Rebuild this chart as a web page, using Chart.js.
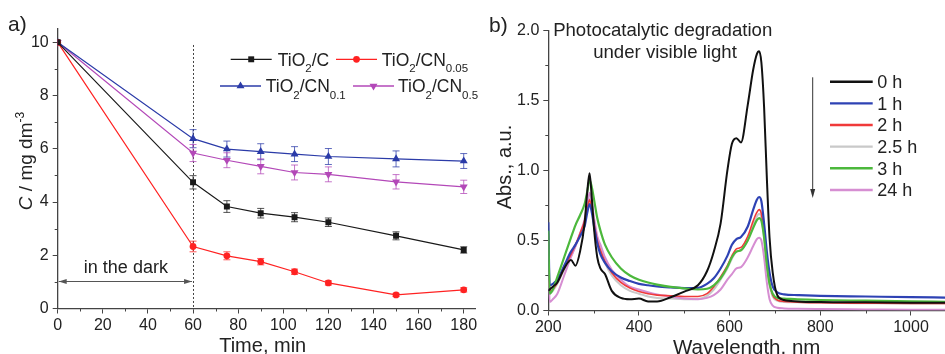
<!DOCTYPE html>
<html><head><meta charset="utf-8">
<script src="https://cdn.jsdelivr.net/npm/chart.js@4/dist/chart.umd.min.js"></script>
<style>
html,body{margin:0;padding:0;background:#fff;}
#wrap{position:relative;width:945px;height:354px;overflow:hidden;background:#fff;}
canvas{position:absolute;top:0;}
#ca{left:0;} #cb{left:480px;}
</style></head><body>
<div id="wrap"><canvas id="ca" width="480" height="354"></canvas><canvas id="cb" width="465" height="354"></canvas></div>
<script>
const FONT = '"Liberation Sans", Arial, Helvetica, sans-serif';
Chart.defaults.font.family = FONT;

// ---------- Panel a data ----------
const times   = [0, 60, 75, 90, 105, 120, 150, 180];
const cTiO2C  = [10, 4.74, 3.83, 3.58, 3.43, 3.24, 2.73, 2.20];
const cCN005  = [10, 2.33, 1.98, 1.76, 1.38, 0.96, 0.51, 0.70];
const cCN01   = [10, 6.38, 5.99, 5.89, 5.80, 5.71, 5.62, 5.54];
const cCN05   = [10, 5.84, 5.57, 5.34, 5.11, 5.04, 4.76, 4.57];
const eTiO2C  = [0, 0.25, 0.22, 0.18, 0.17, 0.16, 0.15, 0.12];
const eCN005  = [0, 0.20, 0.15, 0.12, 0.10, 0.08, 0.06, 0.08];
const eCN01   = [0, 0.34, 0.30, 0.30, 0.28, 0.30, 0.30, 0.28];
const eCN05   = [0, 0.32, 0.28, 0.28, 0.28, 0.28, 0.27, 0.25];
const darkEnd = 60;

// ---------- Panel b data ----------
const wl     = [200,203,210,220,235,250,260,270,280,286,291,296,301,308,315,325,340,360,380,400,420,440,470,500,530,550,565,580,595,605,615,625,640,652,660,665,670,676,682,688,695,705,720,750,800,900,1000,1075];
const abs0h  = [0.14,0.15,0.17,0.20,0.30,0.36,0.32,0.42,0.62,0.85,0.98,0.80,0.58,0.38,0.30,0.26,0.14,0.09,0.08,0.085,0.065,0.065,0.095,0.135,0.18,0.28,0.42,0.62,1.00,1.19,1.23,1.20,1.47,1.72,1.83,1.85,1.77,1.45,0.95,0.52,0.27,0.11,0.075,0.065,0.06,0.058,0.056,0.055];
const abs1h  = [0.63,0.18,0.19,0.22,0.32,0.42,0.47,0.53,0.60,0.70,0.76,0.70,0.60,0.48,0.40,0.34,0.28,0.235,0.21,0.19,0.18,0.172,0.165,0.16,0.162,0.19,0.23,0.30,0.39,0.47,0.51,0.525,0.60,0.72,0.79,0.81,0.78,0.62,0.42,0.27,0.17,0.13,0.115,0.11,0.105,0.10,0.095,0.092];
const abs2h  = [0.55,0.14,0.15,0.20,0.30,0.40,0.47,0.55,0.64,0.73,0.79,0.72,0.62,0.50,0.43,0.35,0.27,0.20,0.16,0.135,0.12,0.11,0.105,0.10,0.10,0.12,0.17,0.24,0.32,0.39,0.44,0.45,0.53,0.64,0.70,0.72,0.69,0.54,0.34,0.20,0.11,0.075,0.065,0.06,0.055,0.052,0.05,0.05];
const abs25h = [0.50,0.12,0.14,0.19,0.29,0.39,0.46,0.54,0.63,0.73,0.80,0.73,0.63,0.50,0.43,0.34,0.25,0.18,0.14,0.12,0.10,0.09,0.085,0.08,0.082,0.105,0.15,0.22,0.30,0.37,0.42,0.43,0.51,0.61,0.67,0.69,0.66,0.52,0.32,0.18,0.10,0.07,0.06,0.058,0.055,0.052,0.05,0.05];
const abs3h  = [0.57,0.12,0.15,0.24,0.38,0.52,0.61,0.68,0.76,0.85,0.93,0.88,0.79,0.66,0.57,0.47,0.38,0.30,0.25,0.22,0.20,0.185,0.168,0.158,0.15,0.155,0.18,0.23,0.31,0.38,0.42,0.43,0.50,0.59,0.645,0.66,0.64,0.52,0.33,0.19,0.12,0.09,0.085,0.08,0.075,0.07,0.065,0.062];
const abs24h = [0.50,0.06,0.08,0.12,0.25,0.38,0.46,0.55,0.65,0.76,0.84,0.77,0.66,0.53,0.47,0.38,0.29,0.22,0.17,0.15,0.13,0.115,0.10,0.085,0.08,0.09,0.11,0.15,0.22,0.26,0.30,0.31,0.38,0.46,0.51,0.52,0.50,0.38,0.20,0.08,0.035,0.02,0.015,0.012,0.01,0.008,0.006,0.005];
const specLabels = ['0 h','1 h','2 h','2.5 h','3 h','24 h'];

// ---------- helpers ----------
function fnt(size, italic){ return (italic?'italic ':'') + size + 'px ' + FONT; }
function rich(ctx, parts, x, y, align){
  let w = 0;
  parts.forEach(p => { ctx.font = fnt(p.s, p.i); w += ctx.measureText(p.t).width; });
  let cx = align === 'center' ? x - w/2 : x;
  ctx.textAlign = 'left'; ctx.textBaseline = 'alphabetic';
  parts.forEach(p => { ctx.font = fnt(p.s, p.i); ctx.fillText(p.t, cx, y + (p.dy||0)); cx += ctx.measureText(p.t).width; });
}
function marker(ctx, style, x, y, r, color){
  ctx.save(); ctx.fillStyle = color; ctx.beginPath();
  if (style === 'rect'){ const s = r*Math.SQRT1_2; ctx.rect(x-s, y-s, 2*s, 2*s); }
  else if (style === 'circle'){ ctx.arc(x, y, r, 0, Math.PI*2); }
  else if (style === 'triangle'){ ctx.moveTo(x, y-r); ctx.lineTo(x+r*0.866, y+r*0.5); ctx.lineTo(x-r*0.866, y+r*0.5); ctx.closePath(); }
  else if (style === 'tdown'){ ctx.moveTo(x, y+r); ctx.lineTo(x+r*0.866, y-r*0.5); ctx.lineTo(x-r*0.866, y-r*0.5); ctx.closePath(); }
  ctx.fill(); ctx.restore();
}
function minorTicks(ctx, scale, vals, len, horizontal){
  ctx.save(); ctx.strokeStyle = '#444'; ctx.lineWidth = 1; ctx.beginPath();
  vals.forEach(v => {
    const p = Math.round(scale.getPixelForValue(v)) + 0.5;
    if (horizontal){ ctx.moveTo(p, scale.top); ctx.lineTo(p, scale.top + len); }
    else { ctx.moveTo(scale.right, p); ctx.lineTo(scale.right - len, p); }
  });
  ctx.stroke(); ctx.restore();
}

// ---------- Panel a ----------
const seriesA = [
  {label:'TiO2/C', sub:'', tail:'/C', data:cTiO2C, err:eTiO2C, color:'#1a1a1a', style:'rect', r:4.2, rot:0},
  {label:'TiO2/CN0.05', sub:'0.05', tail:'/CN', data:cCN005, err:eCN005, color:'#ff2222', style:'circle', r:3.4, rot:0},
  {label:'TiO2/CN0.1', sub:'0.1', tail:'/CN', data:cCN01, err:eCN01, color:'#2b3ba8', style:'triangle', r:4.6, rot:0},
  {label:'TiO2/CN0.5', sub:'0.5', tail:'/CN', data:cCN05, err:eCN05, color:'#b348b8', style:'triangle', r:4.6, rot:180}
];
const legendA = [
  {i:0, lx:230.7, y:59.3, tx:277.7},
  {i:1, lx:336, y:59.3, tx:381.7},
  {i:2, lx:220, y:86, tx:265.7},
  {i:3, lx:353, y:86, tx:398}
];

const pluginA = {
  id:'pA',
  beforeDatasetsDraw(chart){
    const ctx = chart.ctx, xs = chart.scales.x, ys = chart.scales.y;
    ctx.save(); ctx.strokeStyle = '#444'; ctx.lineWidth = 1; ctx.setLineDash([2,2]);
    const px = Math.round(xs.getPixelForValue(darkEnd)) + 0.5;
    ctx.beginPath(); ctx.moveTo(px, ys.getPixelForValue(9.9)); ctx.lineTo(px, ys.getPixelForValue(0)); ctx.stroke();
    ctx.restore();
    seriesA.forEach((s, di) => {
      const meta = chart.getDatasetMeta(di);
      ctx.save(); ctx.strokeStyle = s.color; ctx.globalAlpha = 0.75; ctx.lineWidth = 1;
      s.err.forEach((e, j) => {
        if (!e) return;
        const x = meta.data[j].x;
        const y1 = ys.getPixelForValue(s.data[j] - e), y2 = ys.getPixelForValue(s.data[j] + e);
        ctx.beginPath();
        ctx.moveTo(x, y1); ctx.lineTo(x, y2);
        ctx.moveTo(x-3.5, y1); ctx.lineTo(x+3.5, y1);
        ctx.moveTo(x-3.5, y2); ctx.lineTo(x+3.5, y2);
        ctx.stroke();
      });
      ctx.restore();
    });
  },
  afterDraw(chart){
    const ctx = chart.ctx, xs = chart.scales.x, ys = chart.scales.y;
    minorTicks(ctx, xs, [10,30,50,70,90,110,130,150,170], 3, true);
    minorTicks(ctx, ys, [1,3,5,7,9], 3, false);
    const ay = Math.round(ys.getPixelForValue(1.02)) + 0.5;
    const ax1 = xs.getPixelForValue(0) + 1, ax2 = xs.getPixelForValue(darkEnd) - 1;
    ctx.save(); ctx.strokeStyle = '#555'; ctx.fillStyle = '#555'; ctx.lineWidth = 1;
    ctx.beginPath(); ctx.moveTo(ax1, ay); ctx.lineTo(ax2, ay); ctx.stroke();
    ctx.beginPath(); ctx.moveTo(ax1, ay); ctx.lineTo(ax1+8, ay-2.5); ctx.lineTo(ax1+8, ay+2.5); ctx.closePath(); ctx.fill();
    ctx.beginPath(); ctx.moveTo(ax2, ay); ctx.lineTo(ax2-8, ay-2.5); ctx.lineTo(ax2-8, ay+2.5); ctx.closePath(); ctx.fill();
    ctx.restore();
    ctx.fillStyle = '#222';
    rich(ctx, [{t:'in the dark', s:18}], xs.getPixelForValue(darkEnd/2) + 0.5, 273, 'center');
    legendA.forEach(L => {
      const s = seriesA[L.i];
      ctx.save(); ctx.strokeStyle = s.color; ctx.lineWidth = 1.3;
      ctx.beginPath(); ctx.moveTo(L.lx, L.y); ctx.lineTo(L.lx + 41, L.y); ctx.stroke(); ctx.restore();
      marker(ctx, s.rot ? 'tdown' : s.style, L.lx + 20.5, L.y, s.r, s.color);
      ctx.fillStyle = '#222';
      const parts = [{t:'TiO', s:17.5}, {t:'2', s:11.5, dy:6.5}, {t:s.tail, s:17.5}];
      if (s.sub) parts.push({t:s.sub, s:11.5, dy:6.5});
      rich(ctx, parts, L.tx, L.y + 6.2, 'left');
    });
    ctx.fillStyle = '#222';
    rich(ctx, [{t:'Time, min', s:20}], 262.7, 351.5, 'center');
    ctx.save(); ctx.translate(31.5, 161); ctx.rotate(-Math.PI/2);
    rich(ctx, [{t:'C', s:19, i:true}, {t:' / mg dm', s:19}, {t:'-3', s:12, dy:-8}], 0, 0, 'center');
    ctx.restore();
    rich(ctx, [{t:'a)', s:21}], 8, 31, 'left');
  }
};

new Chart(document.getElementById('ca'), {
  type:'line',
  data:{ datasets: seriesA.map(s => ({
    label:s.label,
    data: times.map((t,i) => ({x:t, y:s.data[i]})),
    borderColor:s.color, backgroundColor:s.color, borderWidth:1.2,
    pointStyle:s.style, pointRotation:s.rot, pointRadius:s.r, pointBorderWidth:0,
    pointBackgroundColor:s.color, tension:0
  }))},
  options:{
    responsive:false, animation:false, devicePixelRatio:1,
    layout:{padding:{top:29, right:5, left:0, bottom:0}},
    plugins:{legend:{display:false}, tooltip:{enabled:false}},
    scales:{
      x:{type:'linear', min:0, max:185,
         ticks:{stepSize:20, includeBounds:false, color:'#222', font:{size:16}, padding:2, maxRotation:0, callback:v => String(v)},
         grid:{drawOnChartArea:false, tickLength:5, color:'#444'},
         border:{color:'#444', width:1.3},
         afterFit:s => { s.height = 45.5; }},
      y:{type:'linear', min:0, max:10.5,
         ticks:{stepSize:2, includeBounds:false, color:'#222', font:{size:16}, padding:4, callback:v => String(v)},
         grid:{drawOnChartArea:false, tickLength:5, color:'#444'},
         border:{color:'#444', width:1.3},
         afterFit:s => { s.width = 57.7; }}
    }
  },
  plugins:[pluginA]
});

// ---------- Panel b ----------
const seriesB = [
  {data:abs0h,  color:'#111111', w:2.0, order:0},
  {data:abs1h,  color:'#2e42b4', w:2.2, order:2},
  {data:abs2h,  color:'#f03a3a', w:1.6, order:3},
  {data:abs25h, color:'#c9c9c9', w:2.0, order:5},
  {data:abs3h,  color:'#4cb83c', w:2.2, order:1},
  {data:abs24h, color:'#d68ed2', w:2.0, order:4}
];
const pluginB = {
  id:'pB',
  afterDraw(chart){
    const ctx = chart.ctx, xs = chart.scales.x, ys = chart.scales.y;
    minorTicks(ctx, xs, [300,500,700,900], 3, true);
    minorTicks(ctx, ys, [0.25,0.75,1.25,1.75], 3, false);
    ctx.fillStyle = '#222';
    rich(ctx, [{t:'Photocatalytic degradation', s:18.6}], 182.7, 36, 'center');
    rich(ctx, [{t:'under visible light', s:18.6}], 185, 57.5, 'center');
    seriesB.forEach((s, i) => {
      const y = 81.7 + i*21.65;
      ctx.save(); ctx.strokeStyle = s.color; ctx.lineWidth = 2.4;
      ctx.beginPath(); ctx.moveTo(350, y); ctx.lineTo(392.7, y); ctx.stroke(); ctx.restore();
      ctx.fillStyle = '#222';
      rich(ctx, [{t:specLabels[i], s:18}], 397.3, y + 6.4, 'left');
    });
    ctx.save(); ctx.strokeStyle = '#333'; ctx.fillStyle = '#333'; ctx.lineWidth = 1;
    ctx.beginPath(); ctx.moveTo(332.7, 77.3); ctx.lineTo(332.7, 192); ctx.stroke();
    ctx.beginPath(); ctx.moveTo(332.7, 198); ctx.lineTo(330.2, 189); ctx.lineTo(335.2, 189); ctx.closePath(); ctx.fill();
    ctx.restore();
    ctx.fillStyle = '#222';
    rich(ctx, [{t:'Wavelength, nm', s:20.5}], 266.7, 354, 'center');
    ctx.save(); ctx.translate(30.5, 167); ctx.rotate(-Math.PI/2);
    rich(ctx, [{t:'Abs., a.u.', s:20}], 0, 0, 'center');
    ctx.restore();
    rich(ctx, [{t:'b)', s:21}], 9, 32, 'left');
  }
};

new Chart(document.getElementById('cb'), {
  type:'line',
  data:{ datasets: seriesB.map((s, i) => ({
    label:specLabels[i],
    data: wl.map((w,j) => ({x:w, y:s.data[j]})),
    borderColor:s.color, borderWidth:s.w, pointRadius:0, fill:false,
    cubicInterpolationMode:'monotone', order:s.order
  }))},
  options:{
    responsive:false, animation:false, devicePixelRatio:1,
    layout:{padding:{top:30.3, right:0, left:0, bottom:0}},
    plugins:{legend:{display:false}, tooltip:{enabled:false}},
    scales:{
      x:{type:'linear', min:200, max:1075,
         ticks:{stepSize:200, includeBounds:false, color:'#222', font:{size:16}, padding:2, maxRotation:0, callback:v => String(v)},
         grid:{drawOnChartArea:false, tickLength:5, color:'#444'},
         border:{color:'#444', width:1.3},
         afterFit:s => { s.height = 43.5; }},
      y:{type:'linear', min:0, max:2,
         ticks:{stepSize:0.5, includeBounds:false, color:'#222', font:{size:16}, padding:4, callback:v => v.toFixed(1)},
         grid:{drawOnChartArea:false, tickLength:5, color:'#444'},
         border:{color:'#444', width:1.3},
         afterFit:s => { s.width = 68.3; }}
    }
  },
  plugins:[pluginB]
});
</script>
</body></html>
